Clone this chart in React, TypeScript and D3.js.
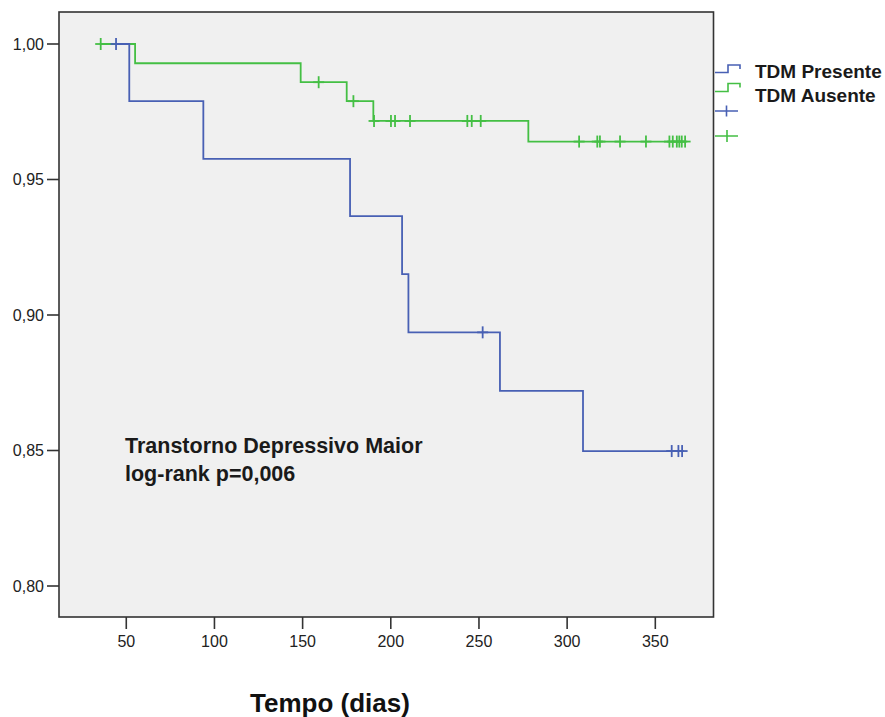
import React from "react";
import * as d3 from "d3";

// ---- Data ----
const xTicks = [50, 100, 150, 200, 250, 300, 350];
const yTicks = [0.8, 0.85, 0.9, 0.95, 1.0];

const presenteStart = 44.2;
const presenteEventTimes = [51.7, 93.7, 176.9, 206.4, 210.0, 261.9, 309.0];
const presenteSurvival = [0.9789, 0.9576, 0.9365, 0.9151, 0.8936, 0.872, 0.8498];
const presenteCensorTimes = [44.2, 252.1, 359.3, 363.1, 365.2];
const presenteEnd = 365.2;

const ausenteStart = 35.5;
const ausenteEventTimes = [55.0, 148.9, 175.0, 190.1, 278.0];
const ausenteSurvival = [0.9929, 0.9859, 0.9789, 0.9716, 0.964];
const ausenteCensorTimes = [
  35.5, 159.1, 178.8, 190.5, 200.1, 202.4, 210.9, 243.4, 245.9, 251.0, 306.8,
  317.1, 318.6, 330.0, 344.7, 358.0, 359.9, 362.2, 363.6, 365.0, 366.9,
];
const ausenteEnd = 366.9;

const legendLabels = ["TDM Presente", "TDM Ausente"];
const annotationLines = ["Transtorno Depressivo Maior", "log-rank p=0,006"];
const xTitle = "Tempo (dias)";

// ---- Layout ----
const W = 885;
const H = 717;
const left = 59;
const right = 713.5;
const top = 12;
const bottom = 617;

const BLUE = "#4860b4";
const GREEN = "#44bf44";
const FONT = "'Liberation Sans', Arial, sans-serif";

const x = d3.scaleLinear().domain([11.85, 383]).range([left, right]);
const y = d3.scaleLinear().domain([0.8, 1.0]).range([586, 44]);

function survivalAt(t: number, times: number[], surv: number[]) {
  let s = 1;
  for (let i = 0; i < times.length; i++) if (times[i] <= t) s = surv[i];
  return s;
}

function curvePoints(start: number, times: number[], surv: number[], end: number) {
  const pts: [number, number][] = [[start, 1]];
  times.forEach((t, i) => pts.push([t, surv[i]]));
  pts.push([end, surv[surv.length - 1]]);
  return pts;
}

const line = d3
  .line<[number, number]>()
  .x((d) => x(d[0]))
  .y((d) => y(d[1]))
  .curve(d3.curveStepAfter);

const fmt = (v: number) => v.toFixed(2).replace(".", ",");

function Censors({ times, ev, surv, color }: { times: number[]; ev: number[]; surv: number[]; color: string }) {
  return (
    <g stroke={color} strokeWidth={1.8}>
      {times.map((t, i) => {
        const cx = x(t);
        const cy = y(survivalAt(t, ev, surv));
        return (
          <g key={i}>
            <line x1={cx - 5.5} x2={cx + 5.5} y1={cy} y2={cy} />
            <line x1={cx} x2={cx} y1={cy - 6} y2={cy + 6} />
          </g>
        );
      })}
    </g>
  );
}

export default function App() {
  const pPts = curvePoints(presenteStart, presenteEventTimes, presenteSurvival, presenteEnd);
  const aPts = curvePoints(ausenteStart, ausenteEventTimes, ausenteSurvival, ausenteEnd);
  return (
    <svg
      width={W}
      height={H}
      style={{ position: "absolute", left: 0, top: 0, background: "#fff" }}
      fontFamily={FONT}
    >
      <rect x={left} y={top} width={right - left} height={bottom - top} fill="#f0f0f0" />

      {/* curves */}
      <path d={line(aPts) || ""} fill="none" stroke={GREEN} strokeWidth={1.8} />
      <Censors times={ausenteCensorTimes} ev={ausenteEventTimes} surv={ausenteSurvival} color={GREEN} />
      <path d={line(pPts) || ""} fill="none" stroke={BLUE} strokeWidth={1.8} />
      <Censors times={presenteCensorTimes} ev={presenteEventTimes} surv={presenteSurvival} color={BLUE} />

      {/* frame */}
      <rect x={left} y={top} width={right - left} height={bottom - top} fill="none" stroke="#333" strokeWidth={1.6} />

      {/* y axis */}
      {yTicks.map((v) => (
        <g key={v}>
          <line x1={left - 12} x2={left} y1={y(v)} y2={y(v)} stroke="#333" strokeWidth={1.6} />
          <text x={left - 15} y={y(v)} dy="0.36em" textAnchor="end" fontSize={16} fill="#222">
            {fmt(v)}
          </text>
        </g>
      ))}

      {/* x axis */}
      {xTicks.map((v) => (
        <g key={v}>
          <line x1={x(v)} x2={x(v)} y1={bottom} y2={bottom + 12} stroke="#333" strokeWidth={1.6} />
          <text x={x(v)} y={647} textAnchor="middle" fontSize={16} fill="#222">
            {v}
          </text>
        </g>
      ))}

      <text x={330} y={712} textAnchor="middle" fontSize={26} fontWeight="bold" fill="#111">
        {xTitle}
      </text>

      {/* annotation */}
      <text x={125} y={453} fontSize={21.5} fontWeight="bold" fill="#1a1a1a">
        {annotationLines[0]}
      </text>
      <text x={125} y={481} fontSize={21.5} fontWeight="bold" fill="#1a1a1a">
        {annotationLines[1]}
      </text>

      {/* legend */}
      <g fill="none" strokeWidth={1.6}>
        <path d="M715,72.5 H728 V65 H740 V69" stroke={BLUE} />
        <path d="M715,91.5 H728 V83.5 H740 V87.5" stroke={GREEN} />
        <path d="M715,111 H738 M726.5,105.5 V116.5" stroke={BLUE} />
        <path d="M715,136 H738 M727,130 V142" stroke={GREEN} />
      </g>
      <text x={755} y={78} fontSize={19} fontWeight="bold" fill="#1a1a1a">
        {legendLabels[0]}
      </text>
      <text x={755} y={102} fontSize={19} fontWeight="bold" fill="#1a1a1a">
        {legendLabels[1]}
      </text>
    </svg>
  );
}
